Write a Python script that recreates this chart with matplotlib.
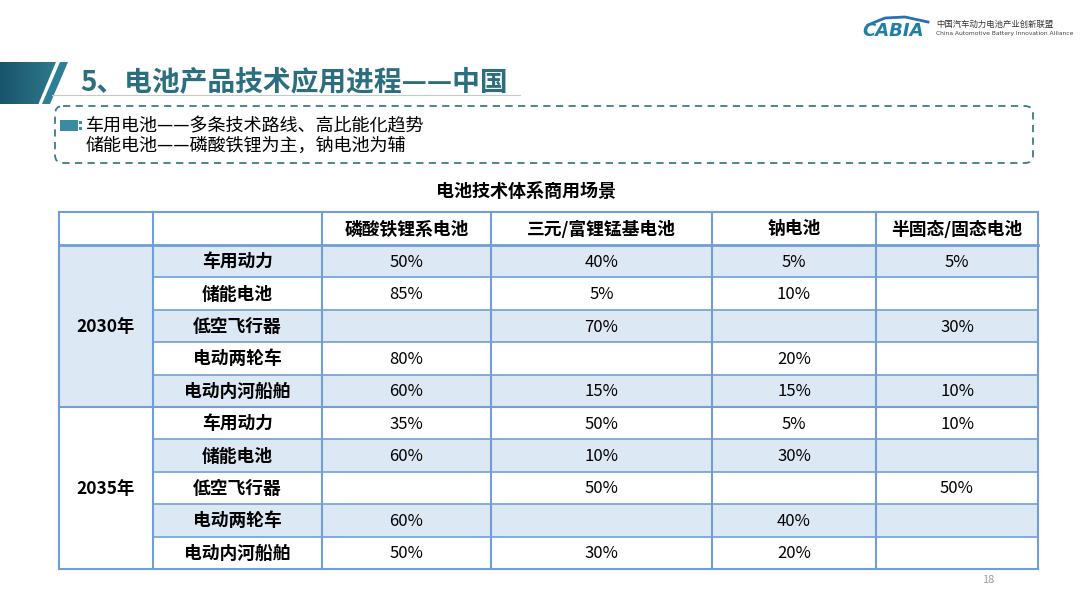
import numpy as np
import matplotlib.pyplot as plt
from matplotlib import font_manager
from matplotlib.patches import Rectangle, Polygon, FancyBboxPatch

names = {f.name for f in font_manager.fontManager.ttflist}
cjk = [n for n in ['Noto Sans CJK SC', 'Noto Sans CJK JP', 'Noto Sans CJK TC', 'Noto Sans CJK KR']
       if n in names]
plt.rcParams['font.family'] = cjk + ['DejaVu Sans']

# table data
techs = ['磷酸铁锂系电池', '三元/富锂锰基电池', '钠电池', '半固态/固态电池']
years = ['2030年', '2035年']
scenes = ['车用动力', '储能电池', '低空飞行器', '电动两轮车', '电动内河船舶']
share_2030 = [
    ['50%', '40%', '5%', '5%'],
    ['85%', '5%', '10%', ''],
    ['', '70%', '', '30%'],
    ['80%', '', '20%', ''],
    ['60%', '15%', '15%', '10%'],
]
share_2035 = [
    ['35%', '50%', '5%', '10%'],
    ['60%', '10%', '30%', ''],
    ['', '50%', '', '50%'],
    ['60%', '', '40%', ''],
    ['50%', '30%', '20%', ''],
]

fig = plt.figure(figsize=(10.8, 6.07), dpi=100)
ax = fig.add_axes([0, 0, 1, 1])
ax.set_xlim(0, 1080)
ax.set_ylim(607, 0)
ax.axis('off')

# header banner
for i in range(30):
    x0 = i * 2.3
    c = np.array([0.09, 0.33, 0.42]) + (i / 30) * np.array([0.12, 0.18, 0.16])
    ax.add_patch(Rectangle((x0, 62), 2.4, 42, color=c, lw=0))
ax.add_patch(Polygon([[56, 62], [90, 62], [90, 104.5], [38, 104.5]], color='white', lw=0))
ax.add_patch(Polygon([[60, 62], [68, 62], [50, 104], [42, 104]], color='#2c7f95', lw=0))
ax.plot([52, 520], [95, 95], color='#c8c8c8', lw=0.8)
ax.text(80, 82, '5、电池产品技术应用进程——中国', fontsize=20, fontweight='bold',
        color='#2b6e80', va='center')

# dashed box
ax.add_patch(FancyBboxPatch((55, 106), 978, 57, boxstyle='round,pad=0,rounding_size=8',
                            fill=False, ec='#3f7a8a', lw=1.3, ls=(0, (4, 3))))
ax.add_patch(Rectangle((60, 120), 18, 11, color='#3b89a2', lw=0))
ax.add_patch(Rectangle((79, 121), 3, 3, color='#3b89a2', lw=0))
ax.add_patch(Rectangle((79, 127), 3, 3, color='#3b89a2', lw=0))
ax.text(86, 126, '车用电池——多条技术路线、高比能化趋势', fontsize=13, va='center')
ax.text(86, 146, '储能电池——磷酸铁锂为主，钠电池为辅', fontsize=13, va='center')

# logo
ax.text(862, 31, 'CABIA', fontsize=13, fontstyle='italic', fontweight='bold',
        color='#1f7fa8', va='center', fontfamily='DejaVu Sans')
ax.plot([868, 885, 905, 928], [25, 18, 17, 22], color='#2a6fb0', lw=2)
ax.text(936, 24, '中国汽车动力电池产业创新联盟', fontsize=6, color='#333333', va='center')
ax.text(936, 33, 'China Automotive Battery Innovation Alliance', fontsize=4.3,
        color='#444444', va='center', fontfamily='DejaVu Sans')

ax.text(526, 191, '电池技术体系商用场景', fontsize=13, fontweight='bold', ha='center', va='center')

# table
col_x = [59, 153, 322, 491, 712, 876, 1038]
top, head_h, row_h = 212, 33, 32.4
border = '#6f9fd6'
shade = '#dde8f5'
rows = [(0, s, share_2030[i]) for i, s in enumerate(scenes)] + \
       [(1, s, share_2035[i]) for i, s in enumerate(scenes)]

for c in range(2, 6):
    ax.text((col_x[c] + col_x[c + 1]) / 2, top + head_h / 2 + 1, techs[c - 2],
            fontsize=12.8, fontweight='bold', ha='center', va='center')

for r, (yi, scene, vals) in enumerate(rows):
    y0 = top + head_h + r * row_h
    if r % 2 == 0:
        ax.add_patch(Rectangle((col_x[1], y0), col_x[-1] - col_x[1], row_h, color=shade, lw=0))
    ax.text((col_x[1] + col_x[2]) / 2, y0 + row_h / 2 + 1, scene, fontsize=12.8,
            fontweight='bold', ha='center', va='center')
    for c, v in enumerate(vals):
        ax.text((col_x[c + 2] + col_x[c + 3]) / 2, y0 + row_h / 2 + 1, v, fontsize=12,
                ha='center', va='center')

for yi, yr in enumerate(years):
    y0 = top + head_h + yi * 5 * row_h
    if yi == 0:
        ax.add_patch(Rectangle((col_x[0], y0), col_x[1] - col_x[0], 5 * row_h, color=shade, lw=0))
    ax.text((col_x[0] + col_x[1]) / 2, y0 + 2.5 * row_h + 1, yr, fontsize=12.5,
            fontweight='bold', ha='center', va='center')

bottom = top + head_h + 10 * row_h
for x in col_x:
    ax.plot([x, x], [top, bottom], color=border, lw=1.5)
ax.plot([col_x[0], col_x[-1]], [top, top], color=border, lw=1.5)
ax.plot([col_x[0], col_x[-1]], [top + head_h, top + head_h], color=border, lw=2)
ax.plot([col_x[0], col_x[-1]], [bottom, bottom], color=border, lw=1.5)
for r in range(1, 10):
    y = top + head_h + r * row_h
    x_start = col_x[0] if r == 5 else col_x[1]
    ax.plot([x_start, col_x[-1]], [y, y], color=border, lw=1.5 if r == 5 else 1.2)

ax.text(988, 580, '18', fontsize=8, color='#999999', ha='center', va='center')

fig.savefig('out.png', dpi=100)
